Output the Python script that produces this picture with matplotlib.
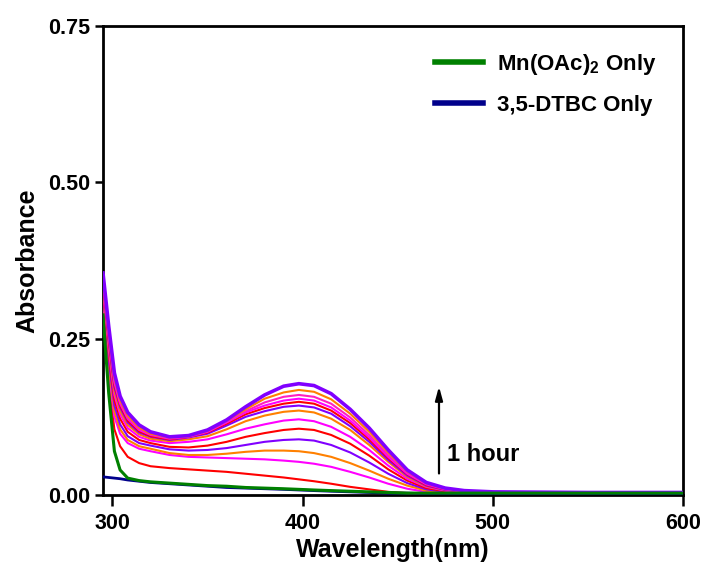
import matplotlib
matplotlib.use("Agg")
import matplotlib.pyplot as plt
from matplotlib.lines import Line2D

plt.rcParams['font.family'] = ['Liberation Sans', 'DejaVu Sans']
plt.rcParams['font.weight'] = 'bold'
plt.rcParams['mathtext.fontset'] = 'custom'
plt.rcParams['mathtext.rm'] = 'Liberation Sans:bold'
plt.rcParams['mathtext.bf'] = 'Liberation Sans:bold'
plt.rcParams['mathtext.it'] = 'Liberation Sans:bold'

# Wavelength grid (nm)
wavelength = [295, 298, 301, 304, 308, 314, 320, 330, 340, 350, 360, 370, 380, 390,
              398, 406, 415, 425, 435, 445, 455, 465, 475, 485, 500, 550, 600]

# Time-dependent spectra (bottom -> top)
c1 = [.315, .180, .105, .078, .061, .051, .046, .043, .041, .039, .037, .034, .031, .028,
      .025, .022, .018, .013, .009, .005, .003, .002, .001, .001, .001, .000, .000]
c2 = [.318, .195, .125, .098, .083, .074, .070, .064, .061, .060, .059, .058, .057, .055,
      .053, .050, .045, .037, .028, .018, .010, .005, .003, .002, .001, .001, .001]
c3 = [.322, .205, .134, .105, .088, .078, .074, .067, .064, .064, .066, .069, .071, .071,
      .070, .067, .061, .051, .039, .026, .015, .007, .004, .002, .001, .001, .001]
c4 = [.326, .215, .143, .113, .094, .083, .079, .073, .071, .072, .075, .080, .085, .088,
      .089, .087, .080, .068, .052, .034, .019, .009, .005, .003, .002, .001, .001]
c5 = [.330, .225, .152, .122, .101, .088, .083, .077, .076, .079, .085, .093, .099, .104,
      .106, .104, .096, .082, .063, .041, .023, .011, .006, .003, .002, .001, .001]
c6 = [.334, .232, .160, .129, .107, .093, .087, .083, .085, .089, .097, .106, .113, .119,
      .121, .118, .109, .093, .072, .047, .026, .013, .007, .004, .002, .002, .002]
c7 = [.337, .240, .166, .135, .112, .097, .090, .086, .089, .094, .105, .118, .127, .133,
      .135, .132, .122, .104, .080, .053, .029, .014, .008, .004, .003, .002, .002]
c8 = [.340, .246, .172, .140, .116, .100, .093, .088, .092, .098, .111, .125, .134, .141,
      .143, .140, .130, .110, .085, .056, .031, .015, .008, .005, .003, .002, .002]
c9 = [.343, .250, .176, .143, .119, .102, .094, .089, .093, .100, .114, .129, .139, .146,
      .149, .146, .135, .115, .089, .059, .033, .016, .009, .005, .003, .002, .002]
c10 = [.345, .254, .180, .146, .122, .104, .096, .090, .093, .101, .116, .132, .143, .151,
       .154, .151, .140, .119, .092, .061, .034, .017, .009, .005, .003, .003, .003]
c11 = [.348, .258, .184, .149, .124, .106, .097, .091, .094, .102, .117, .134, .148, .157,
       .160, .157, .146, .124, .096, .064, .036, .018, .010, .006, .004, .003, .003]
c12 = [.350, .262, .188, .152, .127, .108, .098, .092, .094, .103, .119, .137, .154, .164,
       .168, .165, .153, .130, .101, .068, .038, .019, .010, .006, .004, .003, .003]
c13 = [.355, .270, .195, .158, .132, .112, .101, .093, .095, .104, .120, .141, .160, .174,
       .178, .175, .162, .137, .107, .072, .040, .020, .011, .007, .005, .004, .004]

series = [c1, c2, c3, c4, c5, c6, c7, c8, c9, c10, c11, c12, c13]
series_colors = ['#ff0000', '#ff00ff', '#ff8000', '#8000ff',
                 '#ff0000', '#ff00ff', '#ff8000', '#8000ff',
                 '#ff0000', '#ff00ff', '#ff20c0', '#ff8000', '#8000ff']

# Controls
mn_only = [.288, .163, .070, .040, .027, .023, .021, .019, .017, .015, .014, .012, .011, .010,
           .009, .008, .007, .006, .005, .004, .003, .003, .003, .003, .003, .003, .003]
dtbc_only = [.029, .028, .027, .026, .024, .022, .020, .018, .016, .014, .012, .011, .010, .009,
             .008, .007, .006, .005, .004, .003, .003, .002, .002, .001, .001, .000, .000]

legend_labels = [r'Mn(OAc)$_2$ Only', '3,5-DTBC Only']
x_ticks = [300, 400, 500, 600]
y_ticks = [0.00, 0.25, 0.50, 0.75]

fig = plt.figure(figsize=(7.03, 5.63), dpi=100)
ax = fig.add_axes([0.1465, 0.1208, 0.825, 0.833])

for i, (ys, col) in enumerate(zip(series, series_colors)):
    lw = 2.6 if i == len(series) - 1 else 1.5
    ax.plot(wavelength, ys, color=col, lw=lw, solid_joinstyle='round', zorder=3 + i * 0.01)

ax.plot(wavelength, dtbc_only, color='#00008b', lw=2.0, zorder=4)
ax.plot(wavelength, mn_only, color='#008000', lw=2.2, zorder=4)

ax.set_xlim(295, 600)
ax.set_ylim(0, 0.75)
ax.set_xticks(x_ticks)
ax.set_yticks(y_ticks)
ax.set_xticklabels([f'{t}' for t in x_ticks])
ax.set_yticklabels([f'{t:.2f}' for t in y_ticks])
ax.tick_params(axis='x', which='major', direction='out', length=8, width=1.8,
               labelsize=15.5, pad=5, top=False)
ax.tick_params(axis='y', which='major', direction='out', length=6, width=1.8,
               labelsize=15.5, pad=3.5, right=False)
for s in ax.spines.values():
    s.set_linewidth(2.0)

ax.set_xlabel('Wavelength(nm)', fontsize=18, fontweight='bold', labelpad=3)
ax.set_ylabel('Absorbance', fontsize=18, fontweight='bold', labelpad=6)

# arrow + annotation
ax.annotate('', xy=(471.7, 0.178), xytext=(471.7, 0.030),
            arrowprops=dict(arrowstyle='-|>,head_width=0.22,head_length=0.8',
                            color='black', lw=1.6))
ax.text(476, 0.064, '1 hour', fontsize=17, fontweight='bold', va='center', ha='left')

handles = [Line2D([], [], color='#008000', lw=4),
           Line2D([], [], color='#00008b', lw=4)]
leg = ax.legend(handles, legend_labels, loc='upper left', bbox_to_anchor=(0.572, 0.945),
                frameon=False, fontsize=16, handlelength=2.16, handletextpad=0.63,
                labelspacing=0.8, borderaxespad=0, borderpad=0)

fig.savefig('out.png', dpi=100)
